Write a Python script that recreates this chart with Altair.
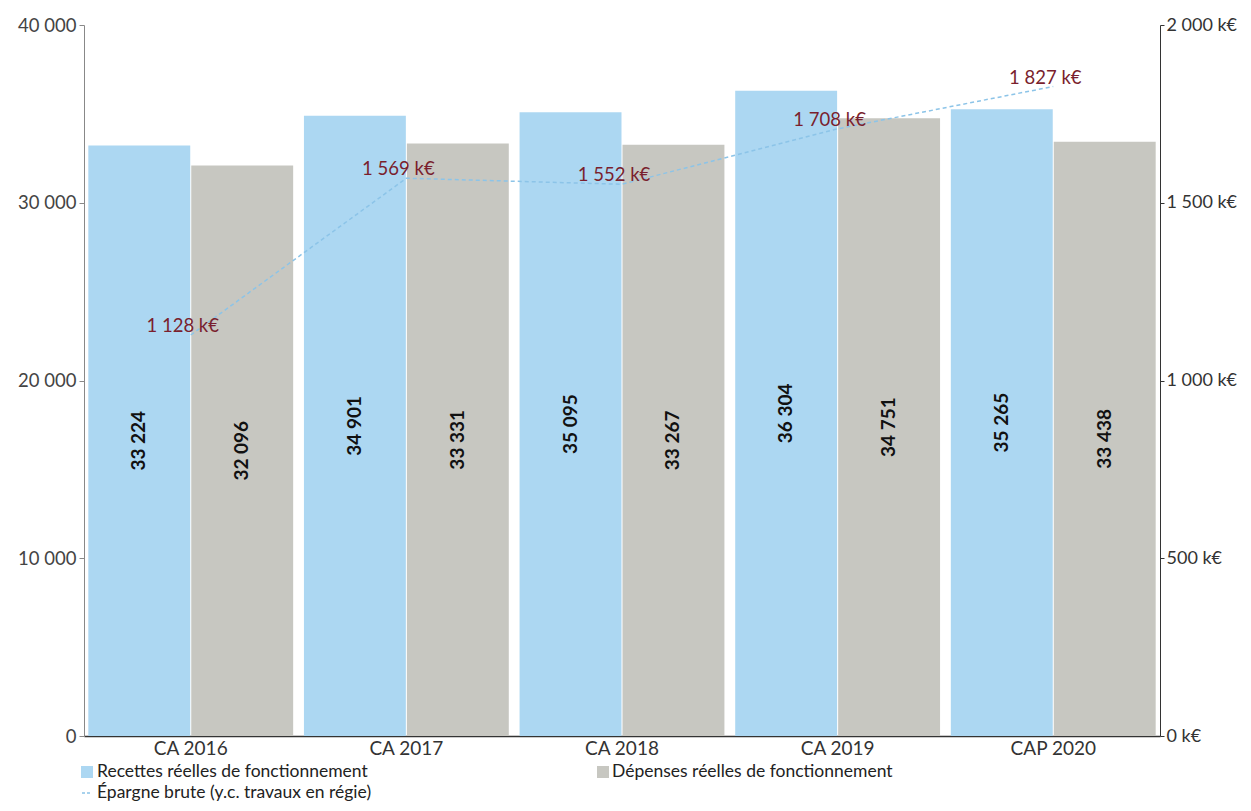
import altair as alt
import pandas as pd

categories = ["CA 2016", "CA 2017", "CA 2018", "CA 2019", "CAP 2020"]
recettes = [33224, 34901, 35095, 36304, 35265]
depenses = [32096, 33331, 33267, 34751, 33438]
epargne = [1128, 1569, 1552, 1708, 1827]
series_names = ["Recettes réelles de fonctionnement", "Dépenses réelles de fonctionnement"]
line_name = "Épargne brute (y.c. travaux en régie)"
left_ticks = [0, 10000, 20000, 30000, 40000]
right_ticks = [0, 500, 1000, 1500, 2000]


def fr(v):
    return f"{v:,}".replace(",", " ")


bars_df = pd.DataFrame({
    "cat": categories * 2,
    "serie": [series_names[0]] * len(categories) + [series_names[1]] * len(categories),
    "valeur": recettes + depenses,
})
bars_df["label"] = bars_df["valeur"].map(fr)
line_df = pd.DataFrame({
    "cat": categories,
    "epargne": epargne,
    "label": [fr(v) + " k€" for v in epargne],
})

FONT = "Lato"
BLUE = "#acd7f2"
GREY = "#c7c7c1"
LINE = "#8cc4e8"
RED = "#7a1f2e"

x = alt.X(
    "cat:N", sort=categories,
    scale=alt.Scale(paddingInner=0.05, paddingOuter=0.02),
    axis=alt.Axis(title=None, labelAngle=0, ticks=False, domainColor="#333",
                  domainWidth=1.5, labelFontSize=19, labelColor="#333",
                  labelPadding=3, labelFont=FONT),
)
xo = alt.XOffset("serie:N", sort=series_names, scale=alt.Scale(paddingInner=0.01))
color = alt.Color("serie:N", scale=alt.Scale(domain=series_names, range=[BLUE, GREY]), legend=None)

yleft = alt.Y("valeur:Q", scale=alt.Scale(domain=[0, 40000]),
              axis=alt.Axis(title=None, values=left_ticks, grid=False,
                            labelExpr="replace(format(datum.value, ','), ',', ' ')",
                            domainColor="#888", tickColor="#888", tickSize=5,
                            labelFontSize=18.5, labelColor="#444", labelFont=FONT,
                            labelPadding=3))

bars = alt.Chart(bars_df).mark_bar().encode(x=x, xOffset=xo, y=yleft, color=color)
bar_text = alt.Chart(bars_df).transform_calculate(
    mid="datum.valeur / 2"
).mark_text(angle=270, fontSize=19, fontWeight="bold", color="#111", font=FONT).encode(
    x=x, xOffset=xo, y=alt.Y("mid:Q"), text="label:N"
)
left = alt.layer(bars, bar_text)

line = alt.Chart(line_df).mark_line(strokeDash=[4, 3], color=LINE, strokeWidth=1.5).encode(
    x=x,
    y=alt.Y("epargne:Q", scale=alt.Scale(domain=[0, 2000]),
            axis=alt.Axis(orient="right", title=None, values=right_ticks, grid=False,
                          labelExpr="replace(format(datum.value, ','), ',', ' ') + ' k€'",
                          domainColor="#333", tickColor="#333", tickSize=4,
                          labelFontSize=18, labelColor="#333", labelFont=FONT,
                          labelPadding=2)),
)
line_text = alt.Chart(line_df).mark_text(
    color=RED, fontSize=18.5, font=FONT, dx=-8, dy=-3, baseline="alphabetic", align="center"
).encode(x=x, y=alt.Y("epargne:Q"), text="label:N")
right = alt.layer(line, line_text)

leg1 = pd.DataFrame({"label": [series_names[0]]})
leg2 = pd.DataFrame({"label": [series_names[1]]})
leg3 = pd.DataFrame({"label": [line_name]})

LEG_FS = 17.5
legend_layers = [
    alt.Chart(leg1).mark_square(size=144, color=BLUE, opacity=1).encode(x=alt.value(3), y=alt.value(747)),
    alt.Chart(leg1).mark_text(align="left", baseline="middle", fontSize=LEG_FS, font=FONT, color="#222").encode(
        x=alt.value(13), y=alt.value(747), text="label:N"),
    alt.Chart(leg2).mark_square(size=144, color=GREY, opacity=1).encode(x=alt.value(519), y=alt.value(747)),
    alt.Chart(leg2).mark_text(align="left", baseline="middle", fontSize=LEG_FS, font=FONT, color="#222").encode(
        x=alt.value(528), y=alt.value(747), text="label:N"),
    alt.Chart(leg3).mark_rule(color=LINE, strokeDash=[3, 2], strokeWidth=1.5).encode(
        x=alt.value(-2), x2=alt.value(8), y=alt.value(768)),
    alt.Chart(leg3).mark_text(align="left", baseline="middle", fontSize=LEG_FS, font=FONT, color="#222").encode(
        x=alt.value(13), y=alt.value(768), text="label:N"),
]

main = alt.layer(left, right).resolve_scale(y="independent")
chart = alt.layer(main, *legend_layers).properties(
    width=1076, height=711,
    autosize=alt.AutoSizeParams(type="none"),
    padding={"left": 84, "top": 25, "right": 91, "bottom": 75},
    background="white",
).configure_view(stroke=None)

chart.save("out.html", embed_options={"renderer": "svg", "actions": False})
